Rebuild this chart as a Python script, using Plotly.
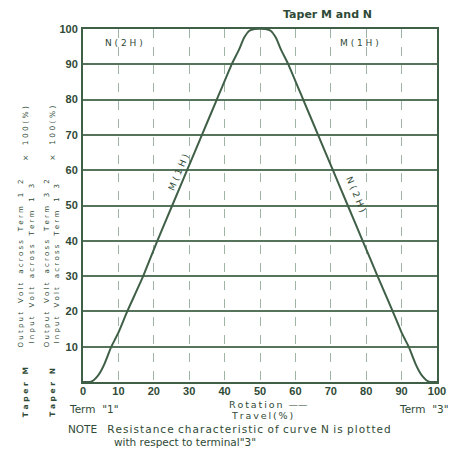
import plotly.graph_objects as go

# Taper curve: M(1H) rising from terminal 1, N(2H) falling (plotted w.r.t. terminal 3)
travel = [0, 2, 3, 4, 5, 6, 7, 8, 9, 10, 12.5, 17, 21, 25.2, 29.4, 33.6, 37.8, 42,
          44, 45.5, 47, 48.5, 51.5, 53, 54.5, 56, 58, 62.2, 66.4, 70.6, 74.8, 79,
          83.2, 87.5, 90, 91, 92, 93, 94, 95, 96, 97, 98, 100]
output_pct = [0, 0, 0.5, 1.5, 3, 5, 7.5, 10, 12, 14, 20, 30, 40, 50, 60, 70, 80, 90,
              94, 97.5, 99.5, 100, 100, 99.5, 97.5, 94, 90, 80, 70, 60, 50, 40,
              30, 20, 14, 12, 10, 7.5, 5, 3, 1.5, 0.5, 0, 0]

x_ticks = [0, 10, 20, 30, 40, 50, 60, 70, 80, 90, 100]
y_ticks = [10, 20, 30, 40, 50, 60, 70, 80, 90, 100]

INK = "#3f5f47"
TXT = "#2f4a36"
GRID = "#56745c"
VGRID = "#9fb5a3"
TICKFONT = "Liberation Sans"
FONT = "DejaVu Sans"

fig = go.Figure()
fig.add_trace(go.Scatter(x=travel, y=output_pct, mode="lines",
                         line=dict(color=INK, width=2, shape="spline", smoothing=0.4),
                         hoverinfo="skip", showlegend=False))

# page body has an 8px margin, so the figure is sized/offset to compensate
fig.update_layout(
    width=448, height=446,
    margin=dict(l=75, r=19, t=21, b=72, autoexpand=False),
    paper_bgcolor="white", plot_bgcolor="white",
    font=dict(family=FONT, color=INK),
    showlegend=False,
)
fig.update_xaxes(range=[0, 100], tickvals=x_ticks, ticktext=[str(v) for v in x_ticks],
                 showgrid=True, gridcolor=VGRID, griddash="dash", gridwidth=1,
                 showline=True, linecolor=INK, linewidth=2, mirror=True,
                 zeroline=False, ticks="", automargin=False, ticklabelstandoff=-2,
                 tickfont=dict(family=TICKFONT, size=11, color=TXT, weight="bold"))
fig.update_yaxes(range=[0, 100], tickvals=y_ticks, ticktext=[str(v) for v in y_ticks],
                 showgrid=True, gridcolor=GRID, gridwidth=1.5,
                 showline=True, linecolor=INK, linewidth=2, mirror=True,
                 zeroline=False, ticks="", ticklabelstandoff=1, automargin=False,
                 tickfont=dict(family=TICKFONT, size=11, color=TXT, weight="bold"))

NB = "\u00a0"
TH = "\u2009"
HAIR = "\u200a"


def ls(s, sep=TH, word=NB * 2):
    """letter-spaced text (the scanned original is typewriter-wide)"""
    return word.join(sep.join(list(w)) for w in s.split(" "))


def ann(text, x, y, size=9, angle=0, xanchor="center", bold=False):
    # x, y given in data units (0-100 spans the plot area); placed via paper coords
    fig.add_annotation(text=text, x=x / 100, y=y / 100, xref="paper", yref="paper",
                       showarrow=False, textangle=angle, xanchor=xanchor, yanchor="middle",
                       font=dict(family=FONT, size=size, color=TXT,
                                 weight="bold" if bold else "normal"))


ann("Taper M and N", 69, 104.0, size=11, bold=True)
ann(ls("N(2H)", NB), 11.5, 96, size=9)
ann(ls("M(1H)", NB), 78, 96, size=9)
ann(ls("M(1H)", NB), 27.0, 59.5, size=9, angle=-67)
ann(ls("N(2H)", NB), 77.2, 53, size=9, angle=67)

ann("Term" + NB * 2 + '"1"', 3.0, -7.6, size=10.5)
ann("Term" + NB * 2 + '"3"', 96.3, -7.6, size=10.5)
ann(ls("Rotation") + NB * 2 + "——", 52.3, -6.3, size=9.5)
ann(ls("Travel(%)"), 50.6, -9.6, size=9.5)
ann("NOTE" + NB * 3 + ls("Resistance characteristic of curve N is plotted", HAIR, " " + HAIR),
    -4.8, -13.4, size=10.5, xanchor="left")
ann('with respect to terminal"3"', 8.2, -17.0, size=10.5, xanchor="left")

# rotated y-axis label block
def col(s):
    return ls(s, NB, NB * 4)


ann(col("Output Volt across Term 1 2"), -17.5, 33.6, size=7, angle=-90)
ann(col("Input Volt across Term 1 3"), -14.4, 33.6, size=7, angle=-90)
ann(col("× 100(%)"), -16.4, 70.5, size=7.5, angle=-90)
ann(ls("Taper M", NB, NB * 3), -16.4, -2.9, size=7.5, angle=-90, bold=True)

ann(col("Output Volt across Term 3 2"), -10.2, 33.6, size=7, angle=-90)
ann(col("Input Volt across Term 1 3"), -7.3, 33.6, size=7, angle=-90)
ann(col("× 100(%)"), -8.6, 70.5, size=7.5, angle=-90)
ann(ls("Taper N", NB, NB * 3), -8.6, -2.9, size=7.5, angle=-90, bold=True)

fig.write_html("out.html")
